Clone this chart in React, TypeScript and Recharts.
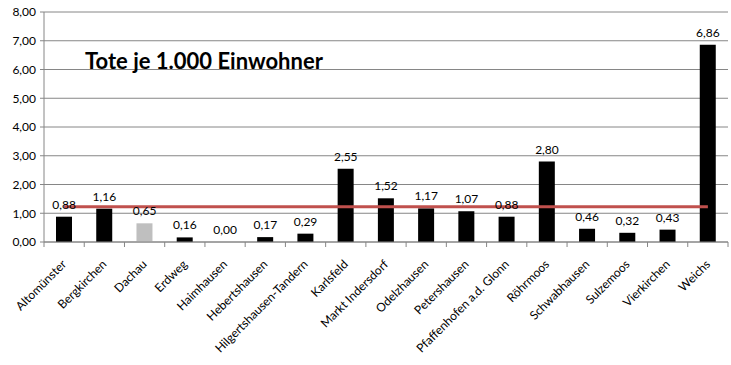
import React from 'react';
import { ComposedChart, Bar, Line, XAxis, YAxis, CartesianGrid, Cell, LabelList, Customized } from 'recharts';

const GEMEINDEN = [
  'Altomünster', 'Bergkirchen', 'Dachau', 'Erdweg', 'Haimhausen', 'Hebertshausen',
  'Hilgertshausen-Tandern', 'Karlsfeld', 'Markt Indersdorf', 'Odelzhausen', 'Petershausen',
  'Pfaffenhofen a.d. Glonn', 'Röhrmoos', 'Schwabhausen', 'Sulzemoos', 'Vierkirchen', 'Weichs',
];
const TOTE_JE_1000 = [0.88, 1.16, 0.65, 0.16, 0.0, 0.17, 0.29, 2.55, 1.52, 1.17, 1.07, 0.88, 2.8, 0.46, 0.32, 0.43, 6.86];
const LANDKREIS_SCHNITT = 1.23;
const Y_TICKS = [0, 1, 2, 3, 4, 5, 6, 7, 8];
const HIGHLIGHT = 'Dachau';

const data = GEMEINDEN.map((name, i) => ({ name, value: TOTE_JE_1000[i], avg: LANDKREIS_SCHNITT }));

const W = 731;
const H = 365;
const M = { top: 12, right: 3, left: 0, bottom: 0 };
const Y_W = 44;
const STEP = (W - M.left - M.right - Y_W) / GEMEINDEN.length;
const FONT = 'Lato, "Noto Sans", sans-serif';
const GRID = '#868686';

const fmt = (v: number) => v.toFixed(2).replace('.', ',');

const CategoryTick = (props: any) => {
  const { x, y, payload, index } = props;
  const tx = x + 3;
  const ty = y + 23;
  return (
    <g>
      <line x1={x - STEP / 2} y1={y} x2={x - STEP / 2} y2={y + 5} stroke={GRID} />
      {index === GEMEINDEN.length - 1 && (
        <line x1={x + STEP / 2} y1={y} x2={x + STEP / 2} y2={y + 5} stroke={GRID} />
      )}
      <text
        x={tx}
        y={ty}
        textAnchor="end"
        fontSize={12}
        fontFamily={FONT}
        fill="#000"
        transform={`rotate(-45, ${tx}, ${ty})`}
      >
        {payload.value}
      </text>
    </g>
  );
};

export default function App() {
  return (
    <div style={{ position: 'absolute', left: 0, top: 0, width: W, height: H, background: '#fff' }}>
      <ComposedChart width={W} height={H} data={data} margin={M}>
        <CartesianGrid vertical={false} stroke={GRID} />
        <XAxis
          dataKey="name"
          interval={0}
          height={123}
          tickLine={false}
          tickSize={0}
          tickMargin={0}
          tick={<CategoryTick />}
          axisLine={{ stroke: GRID }}
        />
        <YAxis
          width={Y_W}
          domain={[0, 8]}
          ticks={Y_TICKS}
          tickFormatter={fmt}
          tickSize={4}
          tickMargin={4}
          axisLine={{ stroke: GRID }}
          tickLine={{ stroke: GRID }}
          tick={{ fontSize: 12, fontFamily: FONT, fill: '#000' }}
        />
        <Bar dataKey="value" barSize={16} isAnimationActive={false}>
          {data.map((d) => (
            <Cell key={d.name} fill={d.name === HIGHLIGHT ? '#bfbfbf' : '#000'} />
          ))}
        </Bar>
        <Line
          dataKey="avg"
          stroke="#c0504d"
          strokeWidth={3}
          dot={false}
          activeDot={false}
          isAnimationActive={false}
        />
        <Line
          dataKey="value"
          stroke="none"
          dot={false}
          activeDot={false}
          legendType="none"
          isAnimationActive={false}
        >
          <LabelList
            dataKey="value"
            position="top"
            offset={8}
            formatter={(v: any) => fmt(Number(v))}
            style={{ fontSize: 12, fontFamily: FONT, fill: '#000' }}
          />
        </Line>
        <Customized
          component={() => (
            <text x={85} y={69} fontSize={22} fontWeight="bold" fontFamily={FONT} fill="#000">
              Tote je 1.000 Einwohner
            </text>
          )}
        />
      </ComposedChart>
    </div>
  );
}
